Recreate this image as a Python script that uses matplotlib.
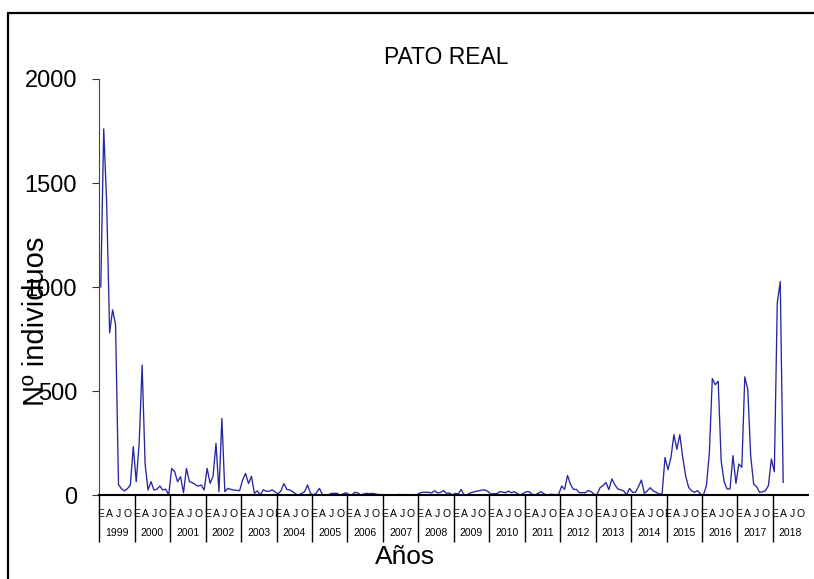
import matplotlib
matplotlib.use('Agg')
import matplotlib.pyplot as plt
import numpy as np
from matplotlib.patches import Rectangle
from matplotlib.transforms import blended_transform_factory

plt.rcParams['font.family'] = ['Liberation Sans', 'DejaVu Sans']

# ---- data (monthly counts, Jan 1999 - Apr 2018) ----
years = list(range(1999, 2019))
month_letters = ['E', 'A', 'J', 'O']

v1999 = [1000, 1760, 1400, 780, 890, 820, 50, 30, 20, 30, 48, 232]
v2000 = [64, 250, 625, 150, 24, 64, 24, 28, 43, 24, 28, 0]
v2001 = [128, 112, 64, 88, 11, 128, 64, 59, 50, 43, 48, 24]
v2002 = [128, 56, 90, 248, 16, 368, 16, 32, 27, 24, 22, 21]
v2003 = [72, 104, 55, 90, 8, 20, 0, 25, 18, 18, 25, 15]
v2004 = [5, 20, 55, 27, 24, 16, 5, 0, 8, 16, 48, 8]
v2005 = [0, 10, 32, 3, 0, 0, 8, 8, 8, 0, 5, 11]
v2006 = [3, 0, 13, 10, 0, 5, 8, 6, 8, 5, 2, 2]
v2007 = [0, 0, 0, 2, 0, 3, 0, 2, 0, 0, 0, 2]
v2008 = [10, 13, 13, 13, 10, 20, 10, 12, 22, 8, 10, 0]
v2009 = [8, 5, 27, 0, 0, 10, 13, 18, 20, 24, 24, 18]
v2010 = [5, 6, 6, 16, 14, 11, 19, 11, 16, 6, 0, 8]
v2011 = [16, 16, 3, 0, 8, 16, 6, 0, 3, 3, 0, 3]
v2012 = [43, 27, 94, 51, 27, 27, 11, 11, 11, 22, 16, 3]
v2013 = [3, 35, 45, 60, 26, 77, 50, 29, 25, 20, 0, 32]
v2014 = [13, 13, 40, 72, 8, 20, 35, 20, 13, 5, 5, 180]
v2015 = [122, 180, 290, 220, 290, 180, 90, 37, 20, 13, 21, 5]
v2016 = [0, 45, 200, 560, 530, 547, 165, 65, 29, 29, 189, 56]
v2017 = [149, 133, 568, 509, 189, 53, 40, 13, 15, 21, 45, 173]
v2018 = [112, 925, 1026, 61]

yticks = [0, 500, 1000, 1500, 2000]

values = np.concatenate([v1999, v2000, v2001, v2002, v2003, v2004, v2005,
                         v2006, v2007, v2008, v2009, v2010, v2011, v2012,
                         v2013, v2014, v2015, v2016, v2017, v2018])
x = np.arange(len(values)) + 0.5

W, H = 814, 579
fig = plt.figure(figsize=(W / 100, H / 100), dpi=100)
ax = fig.add_axes([99.3 / W, 84 / H, 709 / W, 416 / H])

ax.plot(x, values, color='#2626a0', lw=0.95)

ax.set_xlim(0, 240)
ax.set_ylim(0, 2000)

# y axis
ax.set_yticks(yticks)
ax.tick_params(axis='y', direction='out', length=5, width=0.8, pad=11,
               labelsize=17, color='#333333')
for s in ('top', 'right'):
    ax.spines[s].set_visible(False)
ax.spines['left'].set_linewidth(0.8)
ax.spines['left'].set_color('#444444')
ax.spines['bottom'].set_linewidth(1.5)
ax.spines['bottom'].set_color('black')

# x axis: month letters as major ticks, year separators as minor ticks
month_pos = [12 * k + m + 0.5 for k in range(len(years)) for m in (0, 3, 6, 9)]
month_lab = month_letters * len(years)
ax.set_xticks(month_pos, month_lab)
ax.tick_params(axis='x', which='major', length=0, pad=10, labelsize=7.5)
ax.set_xticks([12 * k for k in range(len(years))], minor=True)
ax.tick_params(axis='x', which='minor', direction='out', length=33.5,
               width=1.0, color='black')

trans = blended_transform_factory(ax.transData, ax.transAxes)
for k, yr in enumerate(years):
    ax.text(12 * k + 6, -0.092, str(yr), transform=trans, ha='center',
            va='center', fontsize=7.5)

# titles
fig.text(446 / W, 1 - 57 / H, 'PATO REAL', ha='center', va='center', fontsize=16.5)
fig.text(405 / W, 1 - 557 / H, 'Años', ha='center', va='center', fontsize=19)
fig.text(36 / W, 1 - 321 / H, 'Nº individuos', ha='center', va='center',
         rotation=90, fontsize=21)

# outer frame
fig.patches.append(Rectangle((7.5 / W, -0.1), 1.2, 1.1 - 13 / H,
                             transform=fig.transFigure, fill=False,
                             edgecolor='black', lw=1.6))

fig.savefig('out.png', dpi=100)
